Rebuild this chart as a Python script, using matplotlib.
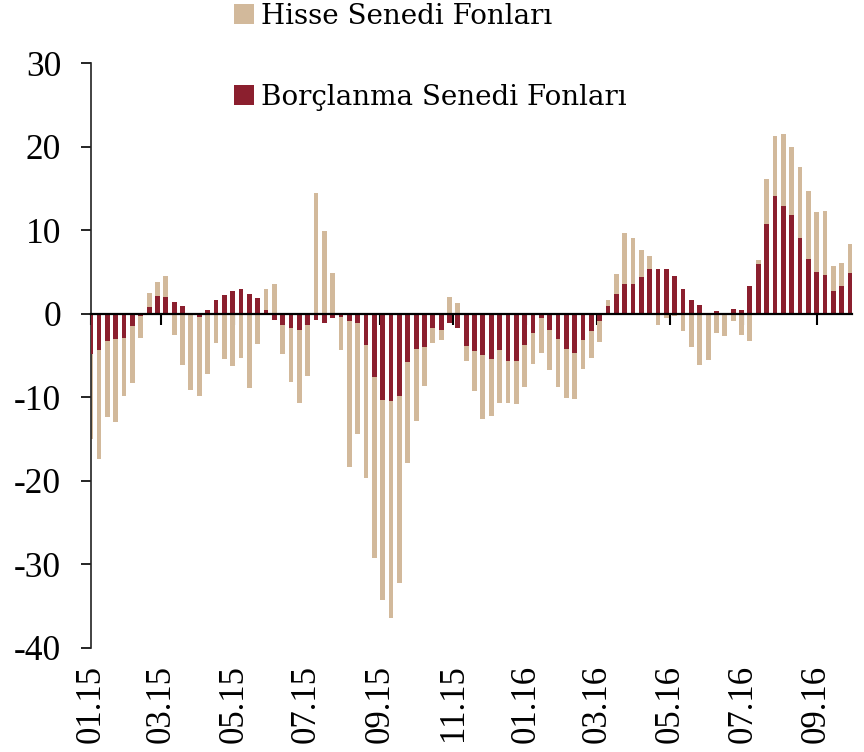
import matplotlib
matplotlib.use('Agg')
import matplotlib.pyplot as plt
import matplotlib.dates as mdates
import numpy as np
import pandas as pd
from matplotlib.patches import Patch

plt.rcParams['font.family'] = ['Liberation Serif', 'DejaVu Serif']

# Weekly data, Jan 2015 - Sep 2016
series_names = ['Hisse Senedi Fonları', 'Borçlanma Senedi Fonları']

hisse = [
    -15.0, -17.4, -12.4, -13.0, -9.9, -8.3, -2.9, 2.5, 3.8, 4.5,
    -2.6, -6.1, -9.1, -9.9, -7.2, -3.5, -5.4, -6.3, -5.3, -8.9,
    -3.6, 2.9, 3.5, -4.8, -8.2, -10.7, -7.4, 14.4, 9.9, 4.9,
    -4.3, -18.3, -14.4, -19.6, -29.2, -34.3, -36.4, -32.2, -17.9, -12.8,
    -8.7, -3.5, -3.1, 2.0, 1.3, -5.7, -9.3, -12.6, -12.2, -10.7,
    -10.7, -10.8, -8.8, -6.0, -4.7, -6.7, -8.8, -10.1, -10.2, -6.6,
    -5.3, -3.4, 1.7, 4.7, 9.7, 9.0, 7.6, 6.9, -1.3, -0.5,
    -0.3, -2.1, -4.0, -6.1, -5.5, -2.3, -2.7, -0.9, -2.5, -3.3,
    6.4, 16.1, 21.3, 21.5, 20.0, 17.6, 14.7, 12.2, 12.3, 5.7,
    6.1, 8.3,
]

borclanma = [
    -4.8, -4.3, -3.3, -3.0, -2.9, -1.5, -0.3, 0.8, 2.1, 2.0,
    1.4, 0.9, 0.1, -0.4, 0.5, 1.7, 2.2, 2.7, 2.9, 2.3,
    1.9, 0.5, -0.7, -1.3, -1.7, -1.9, -1.4, -0.7, -1.1, -0.5,
    -0.4, -0.9, -1.1, -3.8, -7.6, -10.3, -10.4, -9.9, -5.8, -4.2,
    -4.0, -1.7, -1.9, -1.1, -1.7, -3.9, -4.5, -5.0, -5.4, -4.3,
    -5.6, -5.7, -3.7, -2.3, -0.5, -1.9, -3.0, -4.2, -4.7, -3.1,
    -2.1, -0.9, 0.9, 2.4, 3.5, 3.5, 4.4, 5.3, 5.3, 5.3,
    4.5, 3.0, 1.6, 1.0, 0.1, 0.3, 0.1, 0.6, 0.5, 3.3,
    5.9, 10.7, 14.1, 12.9, 11.8, 9.0, 6.5, 5.0, 4.6, 2.7,
    3.3, 4.9,
]

dates = pd.date_range('2015-01-01', periods=len(hisse), freq='7D')
tick_dates = pd.date_range('2015-01-01', '2016-09-01', freq='2MS')
tick_labels = [d.strftime('%m.%y') for d in tick_dates]
y_ticks = [-40, -30, -20, -10, 0, 10, 20, 30]

beige = '#D2B99B'
red = '#8B1F2E'

x = mdates.date2num(dates)
xt = mdates.date2num(tick_dates)
x0 = mdates.date2num(pd.Timestamp('2015-01-01'))

fig = plt.figure(figsize=(8.64, 7.52), dpi=100)
ax = fig.add_axes([90.5 / 864, 1 - 648 / 752, (852 - 90.5) / 864, (648 - 63) / 752])

ax.bar(x, hisse, width=4.0, color=beige, zorder=2, linewidth=0)
ax.bar(x, borclanma, width=4.0, color=red, zorder=3, linewidth=0)

ax.set_xlim(x0 - 0.2, x0 + 638.7)
ax.set_ylim(-40, 30)
ax.set_yticks(y_ticks)
ax.set_yticklabels([str(v) for v in y_ticks])
ax.tick_params(axis='y', direction='out', length=7, width=1.2, labelsize=25.5, pad=14, colors='black')

for s in ['top', 'right']:
    ax.spines[s].set_visible(False)
ax.spines['left'].set_color('#222222')
ax.spines['left'].set_linewidth(1.2)
ax.spines['bottom'].set_position(('data', 0))
ax.spines['bottom'].set_linewidth(1.6)
ax.spines['bottom'].set_color('black')
ax.spines['bottom'].set_zorder(4)

ax.set_xticks(xt)
ax.tick_params(axis='x', direction='out', length=8, width=1.5, labelbottom=False)

sec = ax.secondary_xaxis(0.0)
sec.set_xticks(xt)
sec.set_xticklabels(tick_labels, rotation=90, fontsize=25)
sec.tick_params(axis='x', length=0, pad=12)
sec.spines['bottom'].set_visible(False)

handles = [Patch(facecolor=beige, edgecolor='none', label=series_names[0]),
           Patch(facecolor=red, edgecolor='none', label=series_names[1])]
fig.legend(handles=handles, loc='center left', bbox_to_anchor=(234 / 864, 1 - 57 / 752),
           frameon=False, prop={'family': ['DejaVu Serif'], 'size': 20},
           handlelength=0.72, handleheight=0.72,
           handletextpad=0.25, labelspacing=1.95, borderpad=0, borderaxespad=0)

fig.savefig('out.png', dpi=100)
